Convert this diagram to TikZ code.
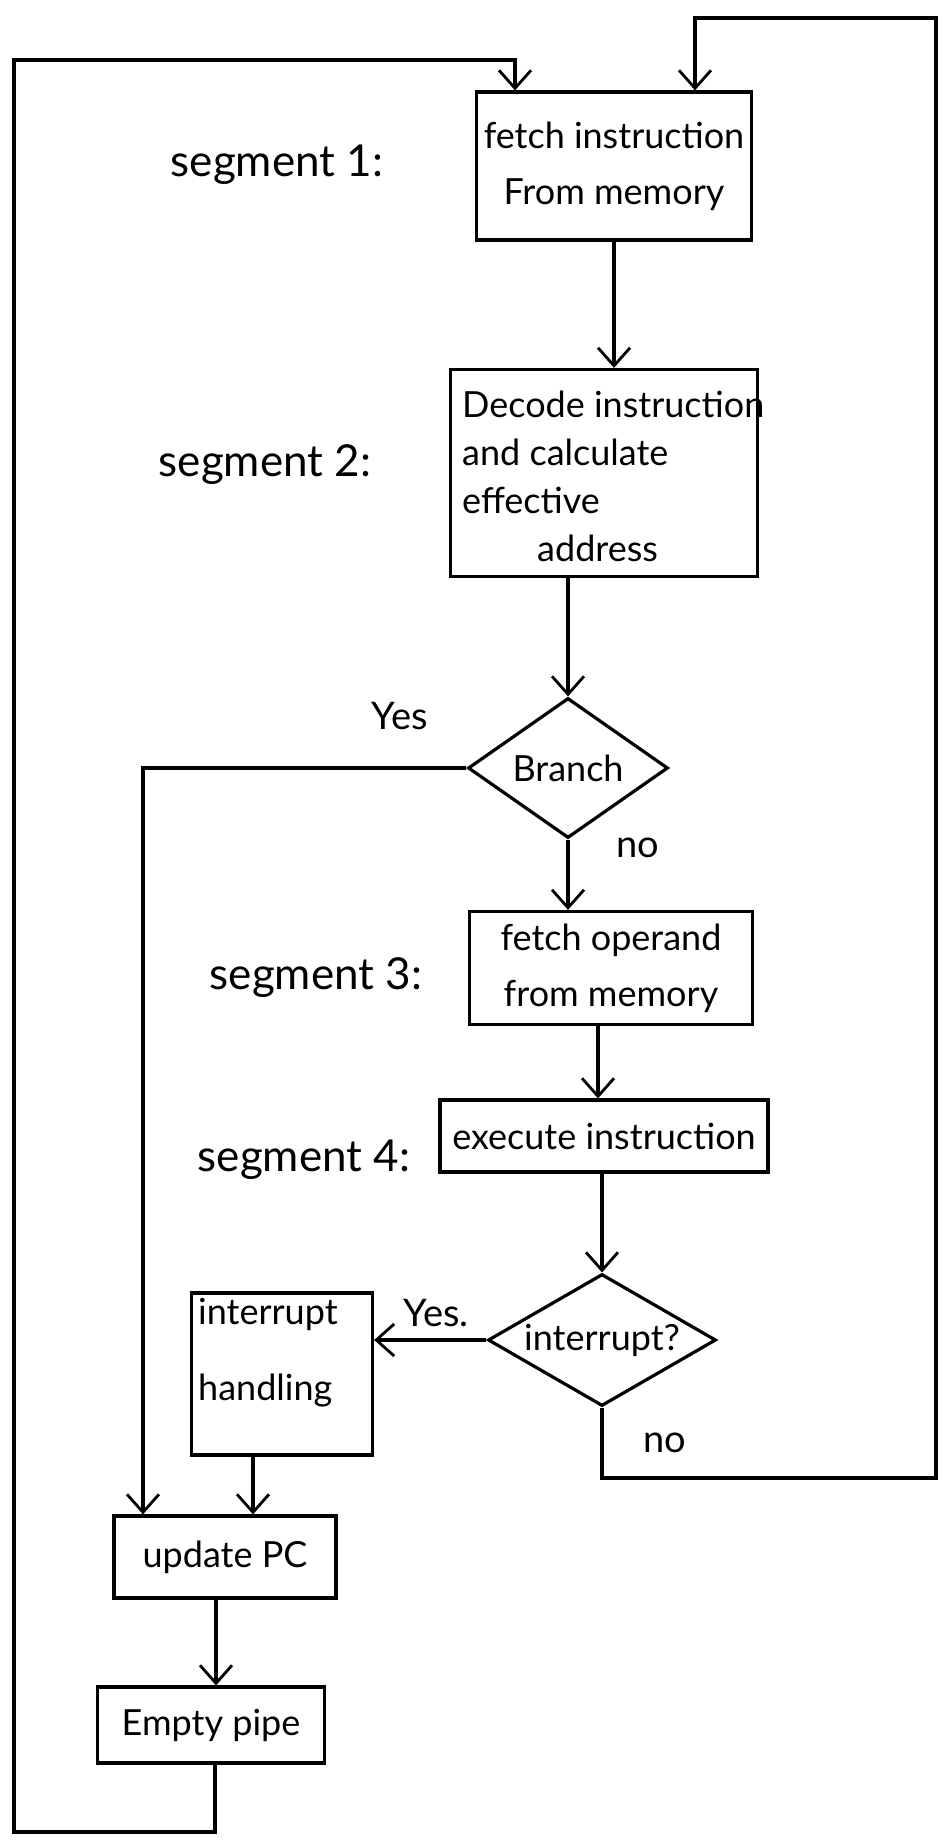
\documentclass[tikz,border=0pt]{standalone}
\usepackage{fontspec}
\setmainfont{Lato}
\usetikzlibrary{arrows.meta,shapes.geometric}
\begin{document}
\begin{tikzpicture}[x=1pt,y=-1pt,
  ink/.style={line width=3.2pt,black},
  flow/.style={ink,-{Straight Barb[length=18pt,width=32pt,line width=2.8pt]}},
  procbox/.style={ink,draw,rectangle,inner sep=0pt},
  decision/.style={ink,draw,diamond,inner sep=0pt,aspect=1.5},
  boxtext/.style={font=\fontsize{36}{56}\selectfont,inner sep=0pt},
  seglabel/.style={font=\fontsize{44}{50}\selectfont,inner sep=0pt},
  answer/.style={font=\fontsize{38}{42}\selectfont,inner sep=0pt}]
\useasboundingbox (0,0) rectangle (947,1847);
\fill[white] (0,0) rectangle (947,1847);

% process boxes
\node[procbox,minimum width=275pt,minimum height=148pt] (fetch) at (614,166) {};
\node[boxtext,align=center] at (fetch.center) {fetch instruction\\From memory};
\node[procbox,minimum width=307pt,minimum height=207pt] (decode) at (604,473) {};
\node[boxtext,align=left,anchor=west,font=\fontsize{36}{48}\selectfont] at (462,476) {Decode instruction\\and calculate\\effective\\\hspace{75pt}address};
\node[decision,minimum width=200pt,minimum height=140pt] (branch) at (568,768) {};
\node[boxtext] at (branch.center) {Branch};
\node[procbox,minimum width=283pt,minimum height=113pt] (operand) at (611,968) {};
\node[boxtext,align=center] at (operand.center) {fetch operand\\from memory};
\node[procbox,minimum width=328pt,minimum height=72pt] (execute) at (604,1136) {};
\node[boxtext] at (execute.center) {execute instruction};
\node[decision,minimum width=228pt,minimum height=132pt] (intr) at (602,1340) {};
\node[boxtext] at (intr.center) {interrupt?};
\node[procbox,minimum width=181pt,minimum height=162pt] (handle) at (282,1374) {};
\node[boxtext,align=left,anchor=north west,font=\fontsize{36}{76}\selectfont] at (198,1298) {interrupt\\handling};
\node[procbox,minimum width=222pt,minimum height=82pt] (pc) at (225,1557) {};
\node[boxtext] at (pc.center) {update PC};
\node[procbox,minimum width=227pt,minimum height=76pt] (pipe) at (211,1725) {};
\node[boxtext] at (pipe.center) {Empty pipe};

% segment labels
\node[seglabel] (s1) at (277,165) {segment 1:};
\node[seglabel] (s2) at (265,465) {segment 2:};
\node[seglabel] (s3) at (316,978) {segment 3:};
\node[seglabel] (s4) at (304,1160) {segment 4:};

% branch answers
\node[answer] (yes1) at (400,716) {Yes};
\node[answer] (no1) at (638,848) {no};
\node[answer] (yes2) at (436,1313) {Yes.};
\node[answer] (no2) at (665,1443) {no};

% loop corners
\coordinate (lb) at (215,1832);
\coordinate (lbl) at (14,1832);
\coordinate (ltl) at (14,60);
\coordinate (ltr) at (515,60);
\coordinate (rb) at (602,1478);
\coordinate (rbr) at (936,1478);
\coordinate (rtr) at (936,18);
\coordinate (rtl) at (695,18);
\coordinate (by) at (143,768);

% connectors
\draw[flow] (fetch.south) -- (fetch.south |- decode.north);
\draw[flow] (decode.south -| branch.north) -- (branch.north);
\draw[flow] (branch.south) -- (branch.south |- operand.north);
\draw[flow] (operand.south -| 598,0) -- (598,0 |- execute.north);
\draw[flow] (execute.south -| intr.north) -- (intr.north);
\draw[flow] (intr.west) -- (intr.west -| handle.east);
\draw[flow] (handle.south -| 253,0) -- (253,0 |- pc.north);
\draw[flow] (pc.south -| 216,0) -- (216,0 |- pipe.north);
\draw[flow] (branch.west) -- (by) -- (by |- pc.north);
\draw[flow] (pipe.south -| lb) -- (lb) -- (lbl) -- (ltl) -- (ltr) -- (ltr |- fetch.north);
\draw[flow] (intr.south) -- (rb) -- (rbr) -- (rtr) -- (rtl) -- (rtl |- fetch.north);
\end{tikzpicture}
\end{document}
